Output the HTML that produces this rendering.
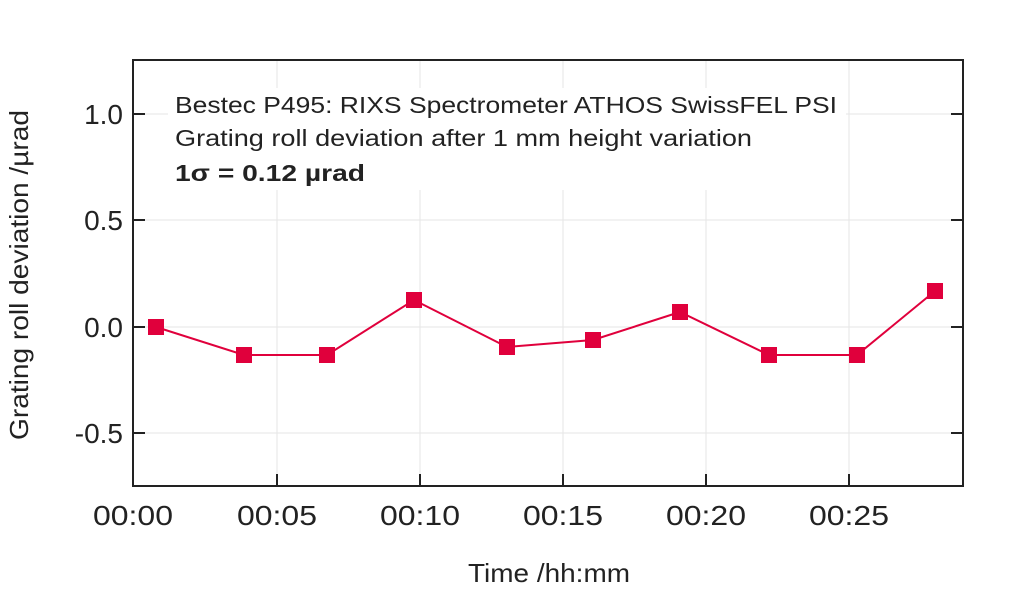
<!DOCTYPE html>
<html><head><meta charset="utf-8"><style>body{margin:0;background:#fff}svg{display:block}</style></head><body>
<svg width="1024" height="589" xmlns="http://www.w3.org/2000/svg" font-family="Liberation Sans, sans-serif">
<g stroke="#e6e6e6" stroke-width="1">
<line x1="133" y1="114" x2="963" y2="114"/><line x1="133" y1="220" x2="963" y2="220"/><line x1="133" y1="327" x2="963" y2="327"/><line x1="133" y1="433" x2="963" y2="433"/>
<line x1="277" y1="60" x2="277" y2="486"/><line x1="420" y1="60" x2="420" y2="486"/><line x1="563" y1="60" x2="563" y2="486"/><line x1="706" y1="60" x2="706" y2="486"/><line x1="849" y1="60" x2="849" y2="486"/>
</g>
<rect x="168" y="88" width="678" height="102" fill="#fff"/>
<rect x="133" y="60" width="830" height="426" fill="none" stroke="#222" stroke-width="2"/>
<g stroke="#222" stroke-width="2">
<line x1="133" y1="114" x2="145" y2="114"/><line x1="133" y1="220" x2="145" y2="220"/><line x1="133" y1="327" x2="145" y2="327"/><line x1="133" y1="433" x2="145" y2="433"/>
<line x1="963" y1="114" x2="951" y2="114"/><line x1="963" y1="220" x2="951" y2="220"/><line x1="963" y1="327" x2="951" y2="327"/><line x1="963" y1="433" x2="951" y2="433"/>
<line x1="277" y1="486" x2="277" y2="474"/><line x1="420" y1="486" x2="420" y2="474"/><line x1="563" y1="486" x2="563" y2="474"/><line x1="706" y1="486" x2="706" y2="474"/><line x1="849" y1="486" x2="849" y2="474"/>
</g>
<g font-size="28" fill="#222" text-anchor="end">
<text x="123" y="124">1.0</text><text x="123" y="230">0.5</text><text x="123" y="337">0.0</text><text x="123" y="443">-0.5</text>
</g>
<g font-size="28" fill="#222" text-anchor="middle" lengthAdjust="spacingAndGlyphs">
<text x="133" y="525" textLength="80" lengthAdjust="spacingAndGlyphs">00:00</text><text x="277" y="525" textLength="80" lengthAdjust="spacingAndGlyphs">00:05</text><text x="420" y="525" textLength="80" lengthAdjust="spacingAndGlyphs">00:10</text><text x="563" y="525" textLength="80" lengthAdjust="spacingAndGlyphs">00:15</text><text x="706" y="525" textLength="80" lengthAdjust="spacingAndGlyphs">00:20</text><text x="849" y="525" textLength="80" lengthAdjust="spacingAndGlyphs">00:25</text>
<text x="549" y="582" font-size="26" textLength="162" lengthAdjust="spacingAndGlyphs">Time /hh:mm</text>
<text transform="translate(28,275) rotate(-90)" font-size="26" textLength="330" lengthAdjust="spacingAndGlyphs">Grating roll deviation /µrad</text>
</g>
<g font-size="23" fill="#222">
<text x="175" y="113" textLength="662" lengthAdjust="spacingAndGlyphs">Bestec P495: RIXS Spectrometer ATHOS SwissFEL PSI</text>
<text x="175" y="146" textLength="577" lengthAdjust="spacingAndGlyphs">Grating roll deviation after 1 mm height variation</text>
<text x="175" y="181" font-weight="bold" textLength="190" lengthAdjust="spacingAndGlyphs">1σ = 0.12 µrad</text>
</g>
<polyline fill="none" stroke="#e0003c" stroke-width="2" points="156,327 244,355 327,355 414,300 507,347 593,340 680,312 769,355 857,355 935,291"/>
<g fill="#e0003c">
<rect x="148" y="319" width="16" height="16"/><rect x="236" y="347" width="16" height="16"/><rect x="319" y="347" width="16" height="16"/><rect x="406" y="292" width="16" height="16"/><rect x="499" y="339" width="16" height="16"/><rect x="585" y="332" width="16" height="16"/><rect x="672" y="304" width="16" height="16"/><rect x="761" y="347" width="16" height="16"/><rect x="849" y="347" width="16" height="16"/><rect x="927" y="283" width="16" height="16"/>
</g>
</svg>
</body></html>
